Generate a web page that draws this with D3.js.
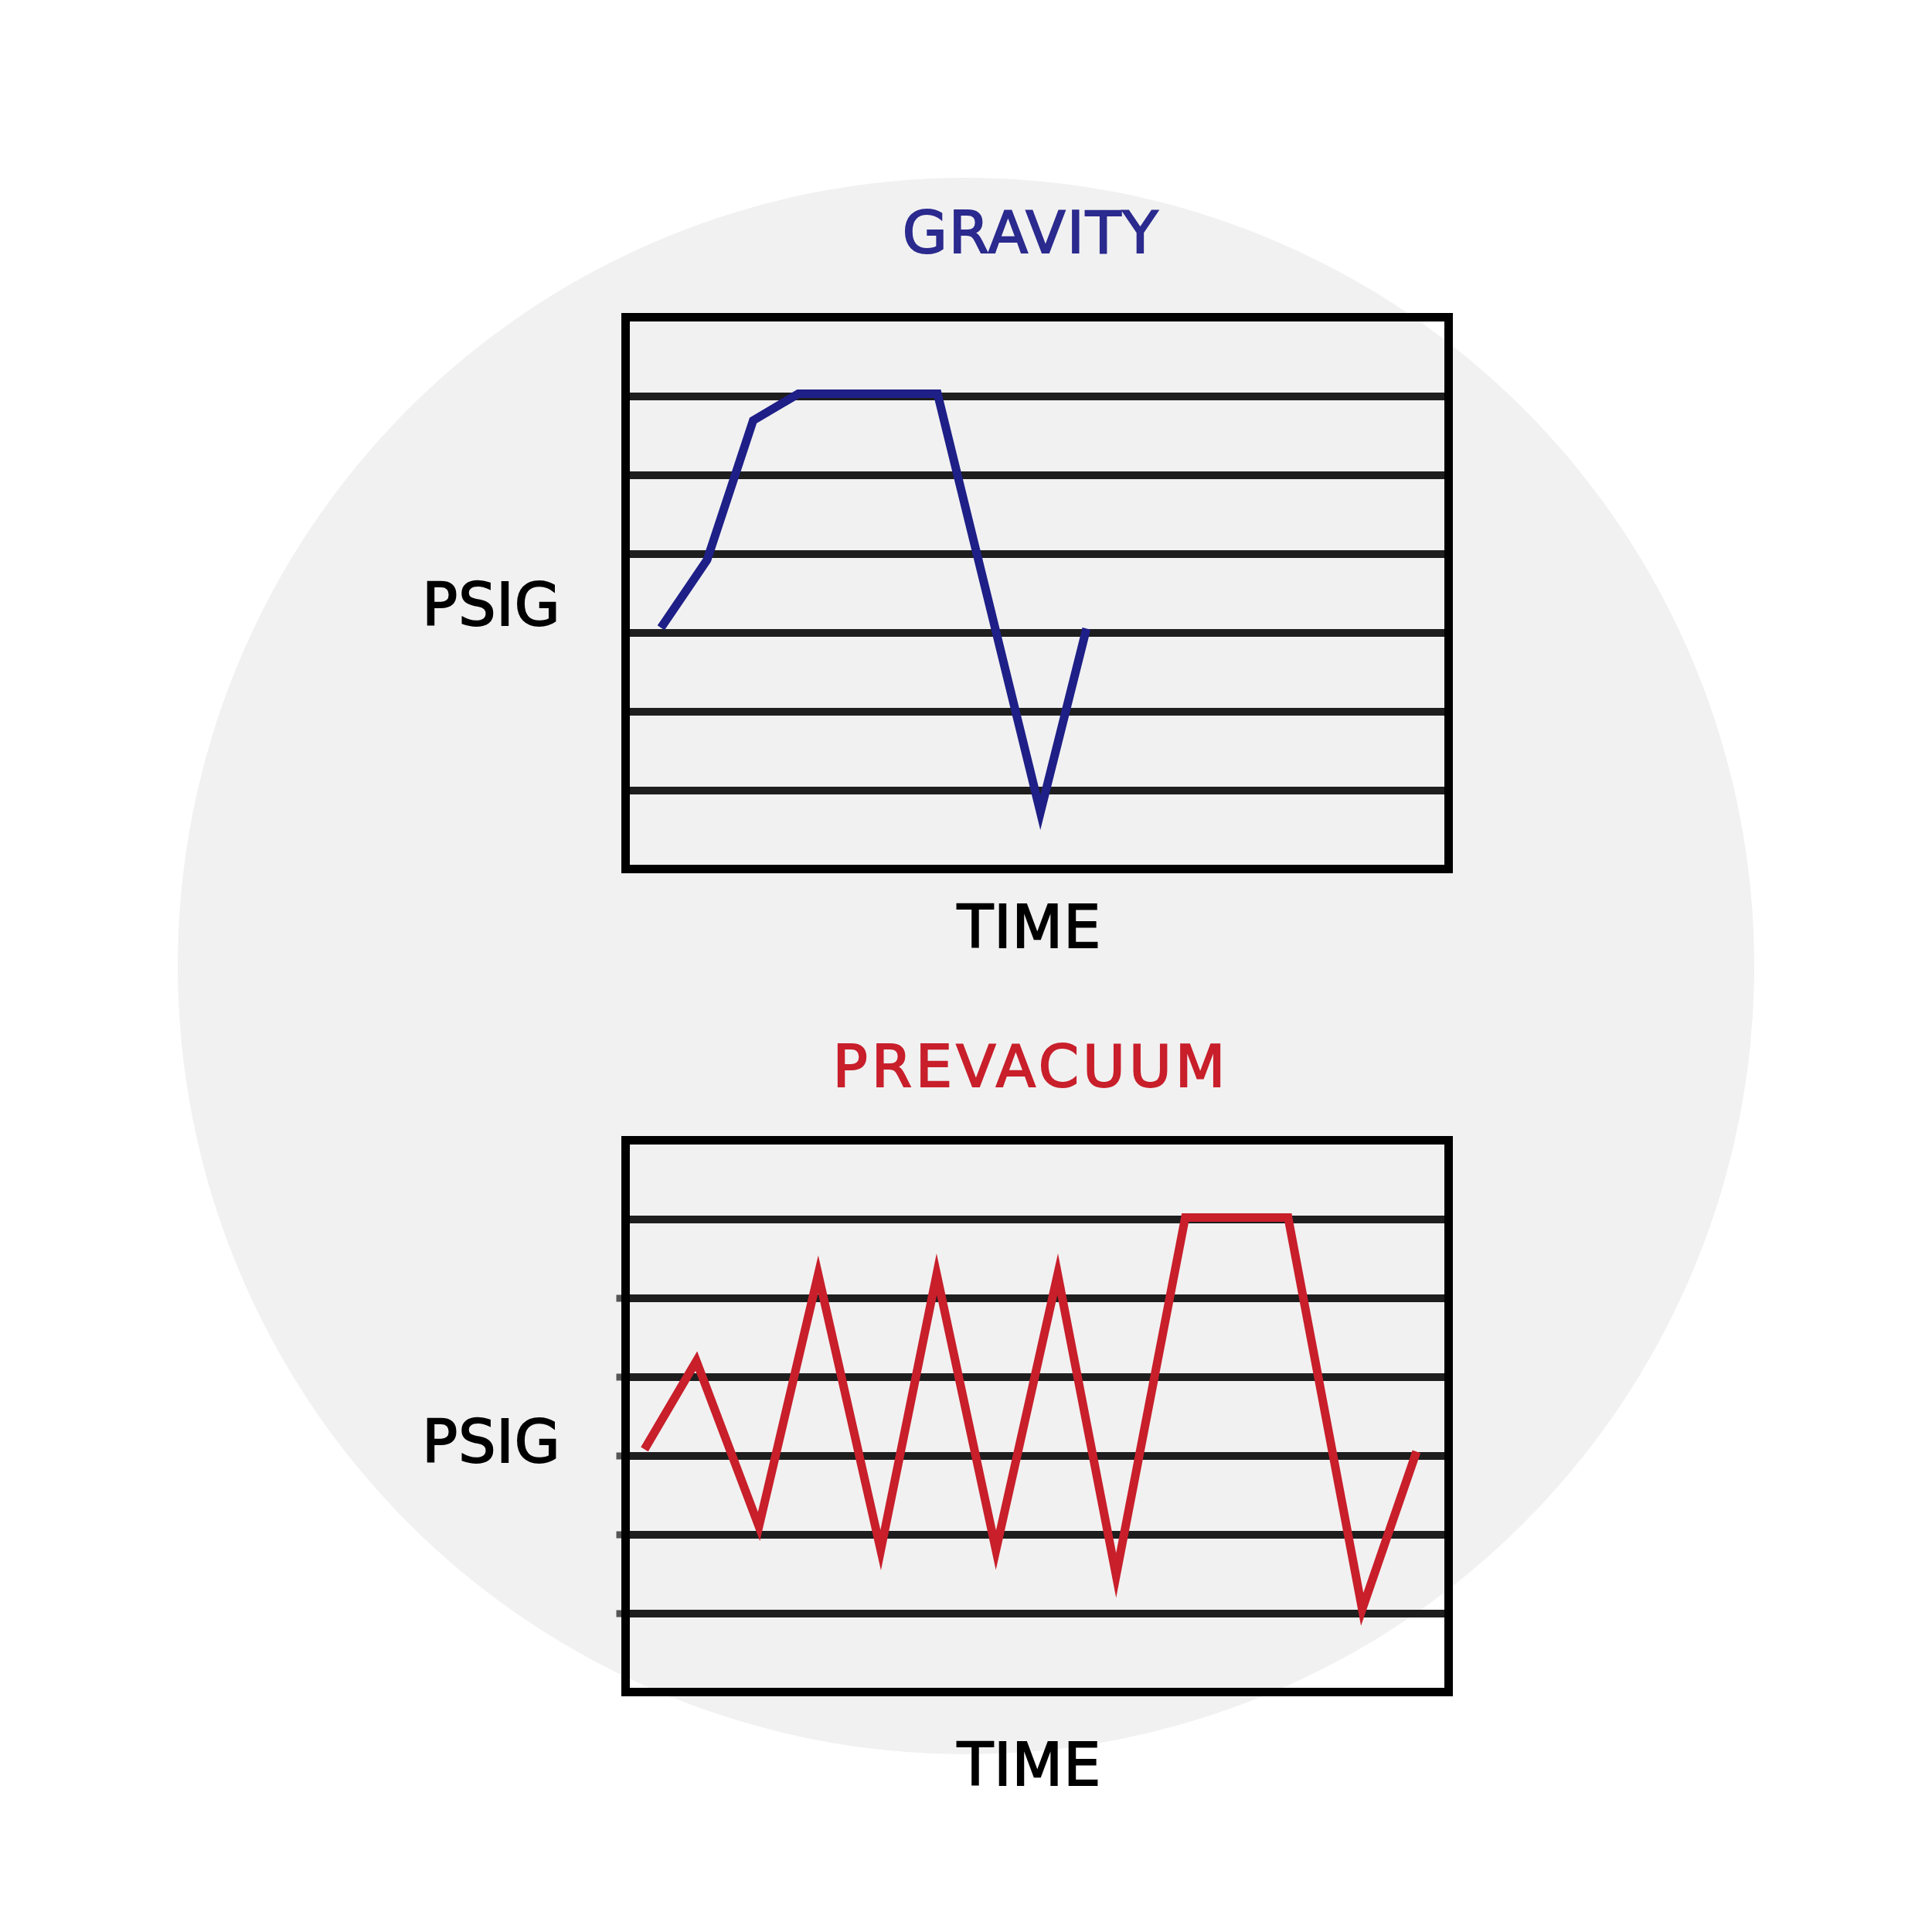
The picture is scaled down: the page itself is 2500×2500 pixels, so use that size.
<!DOCTYPE html>
<html>
<head>
<meta charset="utf-8">
<script src="https://cdn.jsdelivr.net/npm/d3@7"></script>
<style>
  body { margin: 0; background: #fff; }
  text { font-family: "DejaVu Sans", sans-serif; }
</style>
</head>
<body>
<div id="chart"></div>
<script>
// grid units: 0 = bottom of the frame, 7 = top; time runs 0..100 across the frame
var gravity_t = [4.3, 9.9, 15.5, 21.0, 37.9, 50.4, 56.0];
var gravity_p = [3.06, 3.92, 5.69, 6.03, 6.03, 0.72, 3.05];

var prevac_t = [2.3, 8.6, 16.2, 23.4, 31.0, 37.8, 45.0, 52.5, 59.6, 68.0, 80.5, 89.5, 96.1];
var prevac_p = [3.08, 4.2, 2.1, 5.3, 1.8, 5.3, 1.8, 5.3, 1.48, 6.02, 6.02, 1.05, 3.05];

var grid_levels = [1, 2, 3, 4, 5, 6];
var side_ticks = [1, 2, 3, 4, 5];

var W = 2500, H = 2500;

var svg = d3.select("#chart")
    .append("svg")
    .attr("width", W)
    .attr("height", H);

// grey disc behind everything
svg.append("circle")
    .attr("cx", 1250)
    .attr("cy", 1250)
    .attr("r", 1020)
    .style("fill", "#f1f1f1");

var x = d3.scaleLinear().domain([0, 100]).range([809.5, 1874.5]);

function add_label(g, txt, px, py, size, spacing, colour) {
    g.append("text")
        .attr("x", px)
        .attr("y", py)
        .attr("text-anchor", "middle")
        .style("font-size", size + "px")
        .style("letter-spacing", spacing + "px")
        .style("fill", colour)
        .style("stroke", colour)
        .style("stroke-width", 2)
        .text(txt);
}

function draw_panel(p) {
    var top = p.top;
    var y = d3.scaleLinear().domain([0, 7]).range([top + 714, top]);
    var g = svg.append("g");

    // small grey ticks left of the frame
    if (p.ticks) {
        g.append("g")
            .attr("transform", "translate(" + x.range()[0] + ",0)")
            .call(d3.axisLeft(y).tickValues(side_ticks).tickSize(12).tickFormat(""))
            .call(function (a) { a.select(".domain").remove(); })
            .selectAll("line")
            .attr("stroke", "#555")
            .attr("stroke-width", 9);
    }

    // horizontal grid lines
    g.append("g")
        .attr("transform", "translate(" + x.range()[1] + ",0)")
        .call(d3.axisLeft(y).tickValues(grid_levels)
            .tickSize(x.range()[1] - x.range()[0]).tickFormat(""))
        .call(function (a) { a.select(".domain").remove(); })
        .selectAll("line")
        .attr("stroke", "#1e1e1e")
        .attr("stroke-width", 10);

    // frame
    g.append("rect")
        .attr("x", x(0))
        .attr("y", y(7))
        .attr("width", x(100) - x(0))
        .attr("height", y(0) - y(7))
        .style("fill", "none")
        .style("stroke", "#000")
        .style("stroke-width", 11);

    // pressure trace
    var line = d3.line()
        .x(function (d) { return x(d[0]); })
        .y(function (d) { return y(d[1]); });

    g.append("path")
        .datum(d3.zip(p.t, p.v))
        .attr("d", line)
        .style("fill", "none")
        .style("stroke", p.colour)
        .style("stroke-width", 11)
        .style("stroke-linejoin", "miter")
        .style("stroke-miterlimit", 12);

    // labels
    add_label(g, p.title, 1334, top + p.title_dy, 75, p.title_ls, p.title_colour);
    add_label(g, "PSIG", 636, top + p.psig_dy, 76, 1, "#000");
    add_label(g, "TIME", 1332, top + p.time_dy, 76, 1, "#000");
}

draw_panel({top: 410.5, title: "GRAVITY", colour: "#1f1f88", title_colour: "#2b2a8e",
    t: gravity_t, v: gravity_p, ticks: false,
    title_dy: -84, title_ls: 2, psig_dy: 398, time_dy: 815});
draw_panel({top: 1475.5, title: "PREVACUUM", colour: "#c81f2b", title_colour: "#c81f2b",
    t: prevac_t, v: prevac_p, ticks: true,
    title_dy: -70, title_ls: 5, psig_dy: 416, time_dy: 834});
</script>
</body>
</html>
